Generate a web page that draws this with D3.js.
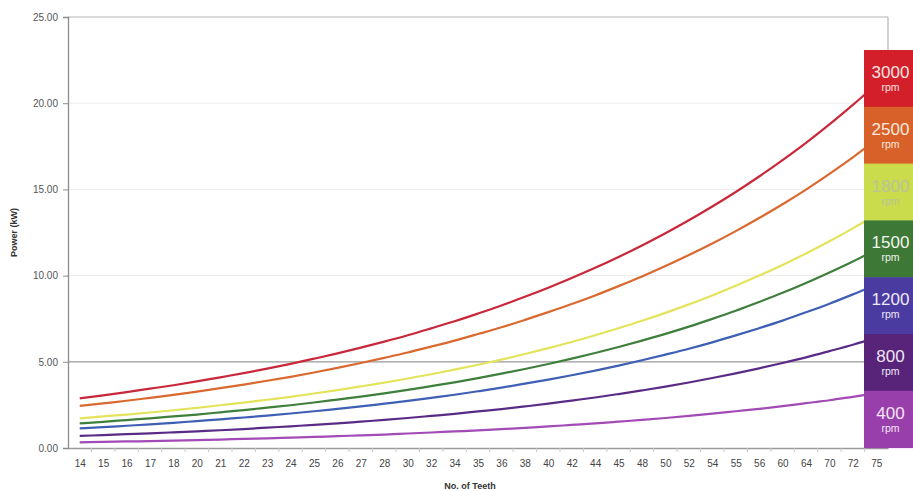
<!DOCTYPE html>
<html>
<head>
<meta charset="utf-8">
<script src="https://cdn.jsdelivr.net/npm/d3@7"></script>
<style>
  html, body { margin: 0; padding: 0; background: #fff; }
  svg { display: block; font-family: "Liberation Sans", Arial, sans-serif; }
</style>
</head>
<body>
<div id="chart"></div>
<script>
const teeth = ["14","15","16","17","18","20","21","22","23","24","25","26","27","28","30","32","34","35","36","38","40","42","44","45","48","50","52","54","55","56","60","64","70","72","75"];

const rpm3000 = [2.88,3.05,3.24,3.44,3.64,3.86,4.10,4.34,4.60,4.88,5.18,5.49,5.82,6.17,6.54,6.94,7.35,7.80,8.27,8.77,9.30,9.86,10.45,11.08,11.75,12.46,13.21,14.01,14.85,15.75,16.70,17.70,18.77,19.90,21.10];
const rpm2500 = [2.44,2.59,2.74,2.91,3.08,3.27,3.47,3.68,3.90,4.13,4.38,4.65,4.93,5.23,5.54,5.88,6.23,6.61,7.00,7.43,7.88,8.35,8.85,9.39,9.95,10.55,11.19,11.86,12.58,13.34,14.14,14.99,15.90,16.86,17.87];
const rpm1800 = [1.72,1.83,1.94,2.06,2.19,2.33,2.48,2.63,2.80,2.97,3.16,3.36,3.57,3.79,4.03,4.28,4.55,4.83,5.13,5.45,5.79,6.15,6.54,6.95,7.38,7.84,8.33,8.85,9.41,10.00,10.62,11.28,11.99,12.74,13.53];
const rpm1500 = [1.43,1.52,1.62,1.72,1.83,1.94,2.07,2.20,2.34,2.48,2.64,2.81,2.98,3.17,3.37,3.59,3.81,4.05,4.31,4.58,4.87,5.18,5.51,5.86,6.23,6.62,7.04,7.49,7.96,8.47,9.00,9.57,10.18,10.82,11.51];
const rpm1200 = [1.14,1.21,1.29,1.37,1.46,1.56,1.66,1.77,1.88,2.00,2.13,2.27,2.41,2.57,2.73,2.91,3.09,3.29,3.50,3.73,3.97,4.22,4.49,4.78,5.09,5.42,5.76,6.13,6.53,6.95,7.39,7.87,8.37,8.91,9.48];
const rpm800  = [0.70,0.75,0.80,0.85,0.91,0.97,1.03,1.10,1.18,1.26,1.34,1.43,1.53,1.63,1.74,1.86,1.98,2.12,2.26,2.41,2.57,2.75,2.93,3.13,3.34,3.56,3.80,4.06,4.33,4.62,4.93,5.26,5.62,5.99,6.40];
const rpm400  = [0.33,0.35,0.38,0.40,0.43,0.46,0.49,0.53,0.56,0.60,0.64,0.69,0.73,0.78,0.84,0.90,0.96,1.02,1.09,1.17,1.25,1.34,1.43,1.53,1.63,1.74,1.86,1.99,2.13,2.27,2.43,2.60,2.77,2.97,3.17];

const seriesNames = ["3000","2500","1800","1500","1200","800","400"];
const seriesValues = [rpm3000, rpm2500, rpm1800, rpm1500, rpm1200, rpm800, rpm400];
const lineColors = ["#c9283a","#d9692f","#e3e35c","#3f7f3c","#3e5fb4","#5a2b86","#a24ab5"];
const boxColors  = ["#d21f29","#d8612a","#cadb4b","#3d7836","#4a3ba0","#57247a","#993fab"];
const boxText    = ["#fbe3e3","#fbe8dd","#b9c49a","#f0f5ee","#eeeaf8","#efe6f5","#f3e6f6"];
const yTicks = [0,5,10,15,20,25];

(function () {
const W = 913, H = 491;
const svg = d3.select("#chart").append("svg").attr("width", W).attr("height", H);

const pL = 68, pR = 888, pT = 17, pB = 448;
const x = d3.scalePoint().domain(teeth).range([pL, pR]).padding(0.5);
const y = d3.scaleLinear().domain([0, 25]).range([pB, pT]);

// gridlines
svg.append("g").selectAll("line").data(yTicks.filter(d => d > 0 && d < 25)).join("line")
  .attr("x1", pL).attr("x2", pR)
  .attr("y1", d => y(d)).attr("y2", d => y(d))
  .attr("stroke", d => d === 5 ? "#9a9a9a" : "#ececec")
  .attr("stroke-width", d => d === 5 ? 1.2 : 1);

// frame (top & right)
svg.append("line").attr("x1", pL).attr("x2", pR).attr("y1", pT).attr("y2", pT)
  .attr("stroke", "#b5b5b5").attr("stroke-width", 1.2);
svg.append("line").attr("x1", pR).attr("x2", pR).attr("y1", pT).attr("y2", pB)
  .attr("stroke", "#b5b5b5").attr("stroke-width", 1.2);

// y axis
const yAxis = svg.append("g").attr("transform", `translate(${pL},0)`)
  .call(d3.axisLeft(y).tickValues(yTicks).tickFormat(d3.format(".2f")).tickSize(5).tickPadding(5));
yAxis.select(".domain").attr("stroke", "#8c8c8c").attr("stroke-width", 1.3);
yAxis.selectAll(".tick line").attr("stroke", "#8c8c8c");
yAxis.selectAll("text").attr("fill", "#555").style("font-size", "10px");

// x axis
const step = x.step();
const xAxis = svg.append("g").attr("transform", `translate(0,${pB})`)
  .call(d3.axisBottom(x).tickSize(0).tickPadding(12));
xAxis.select(".domain").attr("stroke", "#9a9a9a").attr("stroke-width", 1.5);
xAxis.selectAll("text").attr("fill", "#444").style("font-size", "10px");
// band-edge tick marks
svg.append("g").selectAll("line").data(teeth.slice(1)).join("line")
  .attr("x1", d => x(d) - step / 2).attr("x2", d => x(d) - step / 2)
  .attr("y1", pB).attr("y2", pB + 4)
  .attr("stroke", "#c8c8c8");

// axis titles
svg.append("text").attr("x", 470).attr("y", 489).attr("text-anchor", "middle")
  .style("font-size", "9px").style("font-weight", "bold").attr("fill", "#333").text("No. of Teeth");
svg.append("text").attr("transform", `translate(17,${(pT + pB) / 2}) rotate(-90)`)
  .attr("text-anchor", "middle").style("font-size", "9px").style("font-weight", "bold")
  .attr("fill", "#333").text("Power (kW)");

// lines
const line = d3.line().x((d, i) => x(teeth[i])).y(d => y(d)).curve(d3.curveMonotoneX);
svg.append("g").selectAll("path").data(seriesValues).join("path")
  .attr("d", d => line(d))
  .attr("fill", "none")
  .attr("stroke", (d, i) => lineColors[i])
  .attr("stroke-width", 2.2);

// legend boxes
const boxX = 864, boxTop = 50, boxH = 56.8, boxW = W - 864;
const lg = svg.append("g").selectAll("g").data(seriesNames).join("g")
  .attr("transform", (d, i) => `translate(${boxX},${boxTop + i * boxH})`);
lg.append("rect").attr("width", boxW).attr("height", boxH + 0.5).attr("fill", (d, i) => boxColors[i]);
lg.append("text").attr("x", boxW / 2 + 2).attr("y", 28).attr("text-anchor", "middle")
  .style("font-size", "17px").attr("fill", (d, i) => boxText[i]).text(d => d);
lg.append("text").attr("x", boxW / 2 + 2).attr("y", 41).attr("text-anchor", "middle")
  .style("font-size", "10.5px").attr("fill", (d, i) => boxText[i]).text("rpm");
})();
</script>
</body>
</html>
